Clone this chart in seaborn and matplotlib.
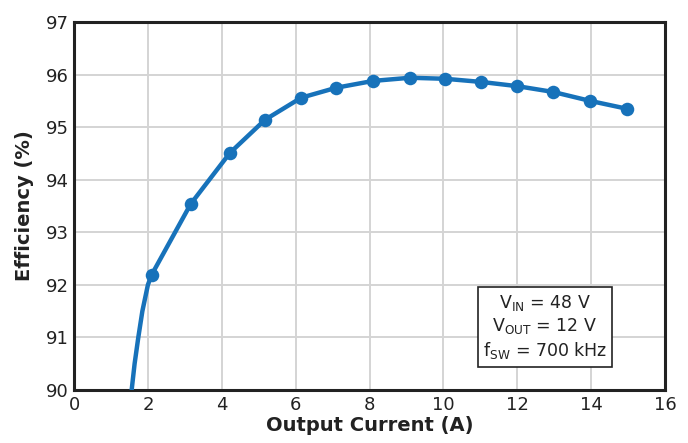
import matplotlib
matplotlib.use("Agg")
import matplotlib.pyplot as plt
import seaborn as sns
import pandas as pd

# --- Data ---
current_a = [2.1, 3.16, 4.22, 5.17, 6.15, 7.1, 8.1, 9.1, 10.05, 11.03, 12.0, 12.97, 13.97, 14.97]
efficiency = [92.19, 93.54, 94.51, 95.14, 95.56, 95.75, 95.88, 95.94, 95.92, 95.86, 95.78, 95.67, 95.5, 95.35]

# steep start of the drawn curve below the first measured point
lead_x = [1.56, 1.64, 1.74, 1.85, 2.0]
lead_y = [90.0, 90.5, 91.0, 91.5, 92.0]

x_ticks = [0, 2, 4, 6, 8, 10, 12, 14, 16]
y_ticks = [90, 91, 92, 93, 94, 95, 96, 97]

df_pts = pd.DataFrame({"I": current_a, "eff": efficiency})
df_line = pd.DataFrame({"I": lead_x + current_a, "eff": lead_y + efficiency})

sns.set_theme(style="white")
plt.rcParams["font.family"] = ["DejaVu Sans"]
plt.rcParams["mathtext.fontset"] = "dejavusans"

blue = "#1772ba"
ink = "#222222"
fig = plt.figure(figsize=(6.88, 4.43), dpi=100)
ax = fig.add_axes([0.1076, 0.1196, 0.859, 0.8307])

sns.lineplot(data=df_line, x="I", y="eff", ax=ax, color=blue, lw=3.2,
             sort=False, estimator=None, zorder=3)
sns.scatterplot(data=df_pts, x="I", y="eff", ax=ax, color=blue, s=95,
                edgecolor=blue, linewidth=0, zorder=4)

ax.set_xlim(0, 16)
ax.set_ylim(90, 97)
ax.set_xticks(x_ticks)
ax.set_yticks(y_ticks)
ax.grid(True, color="#d4d4d4", lw=1.4)
ax.set_axisbelow(True)
for s in ax.spines.values():
    s.set_color(ink)
    s.set_linewidth(2.2)
ax.tick_params(axis="both", length=0, labelsize=13, colors=ink, pad=4)

ax.set_xlabel("Output Current (A)", fontsize=14, fontweight="bold", color=ink, labelpad=2)
ax.set_ylabel("Efficiency (%)", fontsize=14, fontweight="bold", color=ink, labelpad=8)

ax.text(12.75, 91.2,
        "V$_{\\mathrm{IN}}$ = 48 V\nV$_{\\mathrm{OUT}}$ = 12 V\nf$_{\\mathrm{SW}}$ = 700 kHz",
        ha="center", va="center", fontsize=12.5, color=ink, linespacing=1.25,
        bbox=dict(boxstyle="square,pad=0.3", fc="white", ec=ink, lw=1.2),
        zorder=5)

plt.savefig("out.png", dpi=100)
